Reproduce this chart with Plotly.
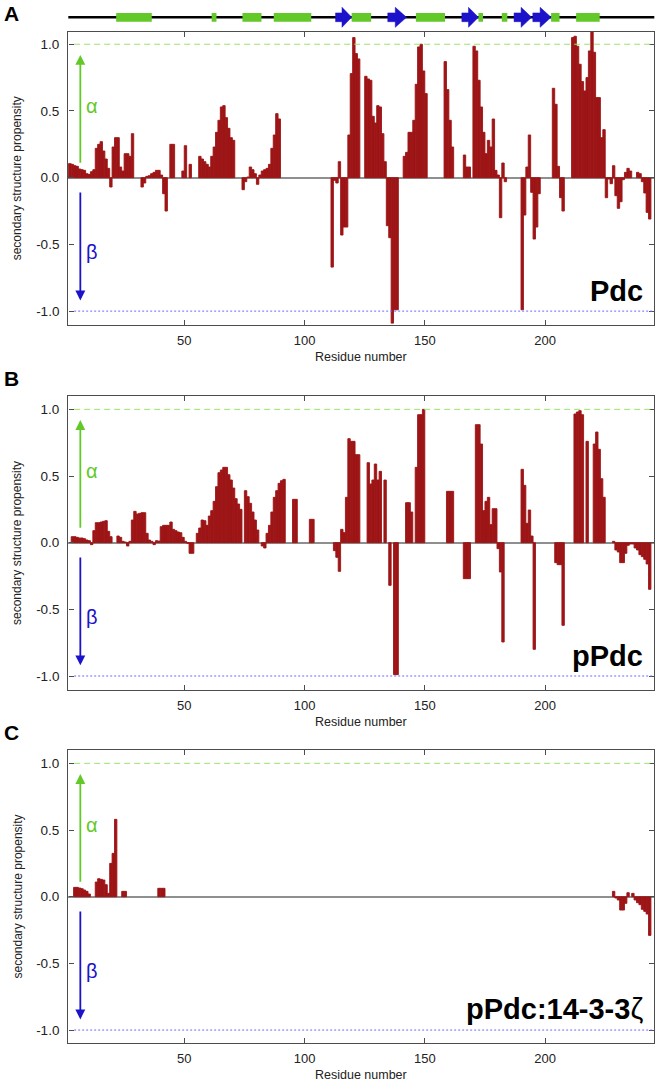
import plotly.graph_objects as go

# ---------------- data ----------------
residues = list(range(1, 245))

pdc = [
    0.105, 0.105, 0.1, 0.09, 0.085, 0.065, 0.06, 0.055, 0.03, 0.025,
    0.045, 0.06, 0.22, 0.25, 0.27, 0.2, 0.14, 0.07, -0.07, 0.23,
    0.3, 0.3, 0.08, 0.05, 0.18, 0.18, 0.16, 0.33, 0, 0,
    0, -0.07, -0.04, 0.01, 0.015, 0.03, 0.04, 0.055, 0.055, 0.02,
    -0.12, -0.25, 0, 0.25, 0.25, 0, 0, 0, 0.05, 0.24,
    0, 0.1, 0, 0, 0, 0.16, 0.14, 0.12, 0.1, 0.08,
    0.16, 0.23, 0.34, 0.43, 0.53, 0.54, 0.45, 0.37, 0.3, 0.28,
    0, 0, 0, -0.09, -0.03, 0.005, 0.08, 0.06, 0.03, -0.05,
    0.02, 0.05, 0.06, 0.07, 0.1, 0.22, 0.32, 0.48, 0.44, 0,
    0, 0, 0, 0, 0, 0, 0, 0, 0, 0,
    0, 0, 0, 0, 0, 0, 0, 0, 0, 0,
    -0.67, -0.02, -0.04, 0.12, -0.43, -0.37, -0.37, 0.32, 0.78, 1.05,
    0.93, 0.89, 0, 0, 0.76, 0.74, 0.73, 0.46, 0.41, 0.54,
    0.53, 0.33, 0.12, -0.36, -0.45, -1.09, -0.99, -0.99, 0, 0,
    0.16, 0.19, 0.34, 0.34, 0.43, 0.7, 0.98, 1.0, 0.8, 0.63,
    0, 0, 0, 0, 0, 0, 0, 0.87, 0.66, 0.43,
    0.23, 0, 0, 0, 0, 0.17, 0.08, 0.08, 0, 0.985,
    0.95, 0.73, 0.53, 0.34, 0.18, 0.28, 0.23, 0.44, 0.055, 0.02,
    -0.3, 0.11, -0.03, 0, 0, 0, 0, 0, 0, -0.99,
    -0.28, 0.08, 0.32, -0.11, -0.46, -0.37, -0.12, 0, 0, 0,
    0, 0, 0.67, 0.55, 0.085, -0.15, -0.25, 0, 0, 0,
    1.05, 1.06, 0.985, 0.85, 0.72, 0.65, 0.75, 0.95, 1.1, 0.94,
    0.6, 0.6, 0.3, 0.36, -0.15, -0.01, -0.045, 0.09, -0.135, -0.23,
    -0.18, -0.015, 0.04, 0.07, 0.05, 0, 0, 0.04, 0.03, -0.03,
    -0.115, -0.26, -0.31, 0,
]

ppdc = [
    0, 0, 0.045, 0.045, 0.04, 0.035, 0.035, 0.03, 0.02, 0.015,
    -0.015, 0.09, 0.15, 0.15, 0.155, 0.16, 0.165, 0.085, 0.045, 0,
    0, 0.05, 0.04, 0.01, 0.005, -0.025, 0.01, 0.17, 0.235, 0.215,
    0.22, 0.225, 0.225, 0.07, 0.02, 0.01, -0.015, 0.015, 0.012, 0.12,
    0.13, 0.13, 0.13, 0.155, 0.1, 0.09, 0.08, 0.075, 0.04, 0.01,
    -0.005, -0.08, -0.08, 0, 0.07, 0.11, 0.17, 0.165, 0.13, 0.2,
    0.24, 0.31, 0.42, 0.525, 0.545, 0.565, 0.565, 0.51, 0.47, 0.41,
    0.33, 0.29, 0.25, 0, 0.39, 0.345, 0.295, 0.23, 0.17, 0.095,
    0, -0.025, -0.04, 0.07, 0.13, 0.23, 0.34, 0.39, 0.445, 0.465,
    0.475, 0, 0, 0, 0.325, 0.325, 0, 0, 0, 0,
    0, 0.175, 0.175, 0, 0, 0, 0, 0, 0, 0,
    0, -0.06, -0.11, -0.215, 0.1, 0.075, 0.34, 0.78, 0.76, 0.76,
    0.66, 0.66, 0, 0, 0, 0.6, 0.44, 0.47, 0.59, 0.47,
    0.535, 0, 0.47, 0, -0.32, 0, -0.99, -0.99, 0, 0,
    0, 0.3, 0.3, 0.23, 0, 0.565, 0.96, 0.96, 1.0, 0,
    0, 0, 0, 0, 0, 0, 0, 0, 0.385, 0.385,
    0.385, 0, 0, 0, 0, -0.27, -0.27, -0.27, 0, 0,
    0.885, 0.885, 0.74, 0.24, 0.31, 0.34, 0.135, 0.255, 0.255, -0.045,
    -0.22, -0.745, 0, 0, 0, 0, 0, 0, 0, 0.55,
    0.43, 0.145, 0.245, 0.05, -0.8, 0, 0, 0, 0, 0,
    0, 0, 0, -0.15, -0.165, -0.165, -0.62, 0, 0, 0,
    0, 0.965, 0.98, 0.99, 0.96, 0, 0.76, 0, 0, 0.74,
    0.83, 0.7, 0.48, 0.34, 0, 0, 0, 0.01, -0.055, -0.07,
    -0.15, -0.15, -0.08, -0.02, -0.01, -0.01, -0.04, -0.055, -0.09, -0.105,
    -0.125, -0.16, -0.35, 0,
]

ppdc_1433 = [
    0, 0, 0, 0.07, 0.07, 0.065, 0.06, 0.05, 0.04, 0.02,
    0, 0, 0.11, 0.135, 0.13, 0.125, 0.09, 0.025, 0.25, 0.325,
    0.58, 0, 0, 0.04, 0.04, 0, 0, 0, 0, 0,
    0, 0, 0, 0, 0, 0, 0, 0, 0.063, 0.063,
    0.063, 0, 0, 0, 0, 0, 0, 0, 0, 0,
    0, 0, 0, 0, 0, 0, 0, 0, 0, 0,
    0, 0, 0, 0, 0, 0, 0, 0, 0, 0,
    0, 0, 0, 0, 0, 0, 0, 0, 0, 0,
    0, 0, 0, 0, 0, 0, 0, 0, 0, 0,
    0, 0, 0, 0, 0, 0, 0, 0, 0, 0,
    0, 0, 0, 0, 0, 0, 0, 0, 0, 0,
    0, 0, 0, 0, 0, 0, 0, 0, 0, 0,
    0, 0, 0, 0, 0, 0, 0, 0, 0, 0,
    0, 0, 0, 0, 0, 0, 0, 0, 0, 0,
    0, 0, 0, 0, 0, 0, 0, 0, 0, 0,
    0, 0, 0, 0, 0, 0, 0, 0, 0, 0,
    0, 0, 0, 0, 0, 0, 0, 0, 0, 0,
    0, 0, 0, 0, 0, 0, 0, 0, 0, 0,
    0, 0, 0, 0, 0, 0, 0, 0, 0, 0,
    0, 0, 0, 0, 0, 0, 0, 0, 0, 0,
    0, 0, 0, 0, 0, 0, 0, 0, 0, 0,
    0, 0, 0, 0, 0, 0, 0, 0, 0, 0,
    0, 0, 0, 0, 0, 0, 0, 0.04, -0.01, -0.025,
    -0.1, -0.1, -0.05, 0.03, 0, 0.025, -0.025, -0.045, -0.06, -0.095,
    -0.11, -0.13, -0.29, 0,
]

x_tick_vals = [50, 100, 150, 200]
y_tick_vals = [-1.0, -0.5, 0.0, 0.5, 1.0]
y_tick_text = ["-1.0", "-0.5", "0.0", "0.5", "1.0"]

panel_letters = ["A", "B", "C"]
panel_names = ["<b>Pdc</b>", "<b>pPdc</b>", "<b>pPdc:14-3-3</b>ζ"]

# secondary structure of Pdc (top track)
helix_start = [21.7, 61.4, 74.2, 87.2, 119.6, 146.3, 172.3, 182.0, 202.5, 212.9]
helix_end = [36.5, 63.4, 82.1, 102.8, 127.7, 158.4, 174.2, 184.3, 206.0, 222.7]
strand_start = [112.9, 134.6, 165.4, 187.1, 194.9]
strand_end = [119.6, 142.4, 172.3, 194.4, 202.5]

# ---------------- styles ----------------
W, H = 659, 1083
BAR = "#9d1516"
GREEN = "#62c928"
BLUE = "#1b12c9"
FRAME = "#4d4d4d"
FONT = "Liberation Sans, Arial, Helvetica, sans-serif"

x_dom = [68.3 / W, 654.3 / W]
x_rng = [1.8, 245.4]
# (top px, bottom px, y-range) for each panel
panels_px = [(31.7, 325.0, [-1.104, 1.094]),
             (396.0, 690.0, [-1.105, 1.100]),
             (750.0, 1043.0, [-1.097, 1.100])]
series = [pdc, ppdc, ppdc_1433]
assert all(len(s) == len(residues) for s in series)

fig = go.Figure()
layout = dict(width=W, height=H, margin=dict(l=0, r=0, t=0, b=0),
              paper_bgcolor="white", plot_bgcolor="white",
              showlegend=False, font=dict(family=FONT, color="#222"))
shapes, annotations = [], []


def note(**kw):
    kw.setdefault("showarrow", False)
    kw.setdefault("xanchor", "center")
    kw.setdefault("yanchor", "middle")
    annotations.append(kw)


for i, (vals, (top, bot, yr)) in enumerate(zip(series, panels_px)):
    n = "" if i == 0 else str(i + 1)
    xa, ya = "x" + n, "y" + n
    # residues with zero propensity get no bar
    shown = [v if v != 0 else None for v in vals]
    fig.add_trace(go.Bar(x=residues, y=shown, xaxis=xa, yaxis=ya,
                         width=1, offset=0,
                         marker=dict(color=BAR, line=dict(color=BAR, width=0.9)),
                         hoverinfo="x+y"))
    layout["xaxis" + n] = dict(domain=x_dom, range=x_rng, anchor=ya,
                               tickvals=x_tick_vals, ticks="inside", ticklen=5,
                               tickwidth=1.2, tickcolor=FRAME, showline=True,
                               linecolor=FRAME, linewidth=1.4, mirror="allticks",
                               showgrid=False, zeroline=False,
                               tickfont=dict(size=13, color="#222"),
                               ticklabelstandoff=3)
    layout["yaxis" + n] = dict(domain=[1 - bot / H, 1 - top / H], range=yr,
                               anchor=xa, tickvals=y_tick_vals, ticktext=y_tick_text,
                               ticks="inside", ticklen=5, tickwidth=1.2,
                               tickcolor=FRAME, showline=True, linecolor=FRAME,
                               linewidth=1.4, mirror="allticks", showgrid=False,
                               zeroline=True, zerolinecolor="#8f8f8f",
                               zerolinewidth=1.5,
                               tickfont=dict(size=13.5, color="#222"),
                               ticklabelstandoff=5)
    # reference lines at +1 (alpha) and -1 (beta)
    shapes.append(dict(type="line", xref=xa + " domain", yref=ya, x0=0.01, x1=1,
                       y0=1, y1=1, line=dict(color="#9be36c", width=1, dash="6px,4px")))
    shapes.append(dict(type="line", xref=xa + " domain", yref=ya, x0=0.01, x1=1,
                       y0=-1, y1=-1, line=dict(color="#6b6bff", width=1, dash="2px,2px")))
    # alpha / beta arrows
    note(x=6.8, y=0.92, ax=6.8, ay=0.1, xref=xa, yref=ya, axref=xa, ayref=ya,
         text="", showarrow=True, arrowhead=2, arrowsize=1.1, arrowwidth=1.8,
         arrowcolor=GREEN)
    note(x=6.8, y=-0.92, ax=6.8, ay=-0.1, xref=xa, yref=ya, axref=xa, ayref=ya,
         text="", showarrow=True, arrowhead=2, arrowsize=1.1, arrowwidth=1.8,
         arrowcolor=BLUE)
    note(x=11.8, y=0.54, xref=xa, yref=ya, text="α", font=dict(size=20, color=GREEN))
    note(x=11.8, y=-0.56, xref=xa, yref=ya, text="β", font=dict(size=20, color=BLUE))
    # protein name
    note(x=645 / W, y=1 - (bot - 34) / H, xref="paper", yref="paper",
         xanchor="right", text=panel_names[i], font=dict(size=29, color="black"))
    # panel letter
    note(x=2 / W, y=1 - (top - 18) / H, xref="paper", yref="paper", xanchor="left",
         text="<b>%s</b>" % panel_letters[i], font=dict(size=21, color="black"))
    # axis titles
    note(x=17 / W, y=1 - ((top + bot) / 2) / H, xref="paper", yref="paper",
         textangle=-90, text="secondary structure propensity",
         font=dict(size=12, color="#222"))
    note(x=(x_dom[0] + x_dom[1]) / 2, y=1 - (bot + 32) / H, xref="paper",
         yref="paper", text="Residue number", font=dict(size=12.5, color="#222"))

# ---------------- secondary-structure track ----------------
layout["xaxis4"] = dict(domain=x_dom, matches="x", anchor="y4", visible=False)
layout["yaxis4"] = dict(domain=[1 - 28.3 / H, 1 - 6.3 / H], range=[-1.1, 1.1],
                        anchor="x4", visible=False)
shapes.append(dict(type="line", xref="x4 domain", yref="y4", x0=0, x1=1, y0=0, y1=0,
                   line=dict(color="black", width=2.4), layer="below"))
for s, e in zip(helix_start, helix_end):
    shapes.append(dict(type="rect", xref="x4", yref="y4", x0=s, x1=e, y0=-0.44, y1=0.44,
                       fillcolor=GREEN, line=dict(width=0)))
for s, e in zip(strand_start, strand_end):
    head = s + 0.4 * (e - s)
    fig.add_trace(go.Scatter(x=[s, head, head, e, head, head, s, s],
                             y=[-0.44, -0.44, -1.0, 0, 1.0, 0.44, 0.44, -0.44],
                             xaxis="x4", yaxis="y4", mode="lines", fill="toself",
                             fillcolor=BLUE, line=dict(color=BLUE, width=0.5),
                             hoverinfo="skip"))

layout["shapes"] = shapes
layout["annotations"] = annotations
fig.update_layout(**layout)
fig.write_html("out.html",
               config={"displayModeBar": False},
               post_script="document.body.style.margin='0px';"
                           "document.body.style.overflow='hidden';")
